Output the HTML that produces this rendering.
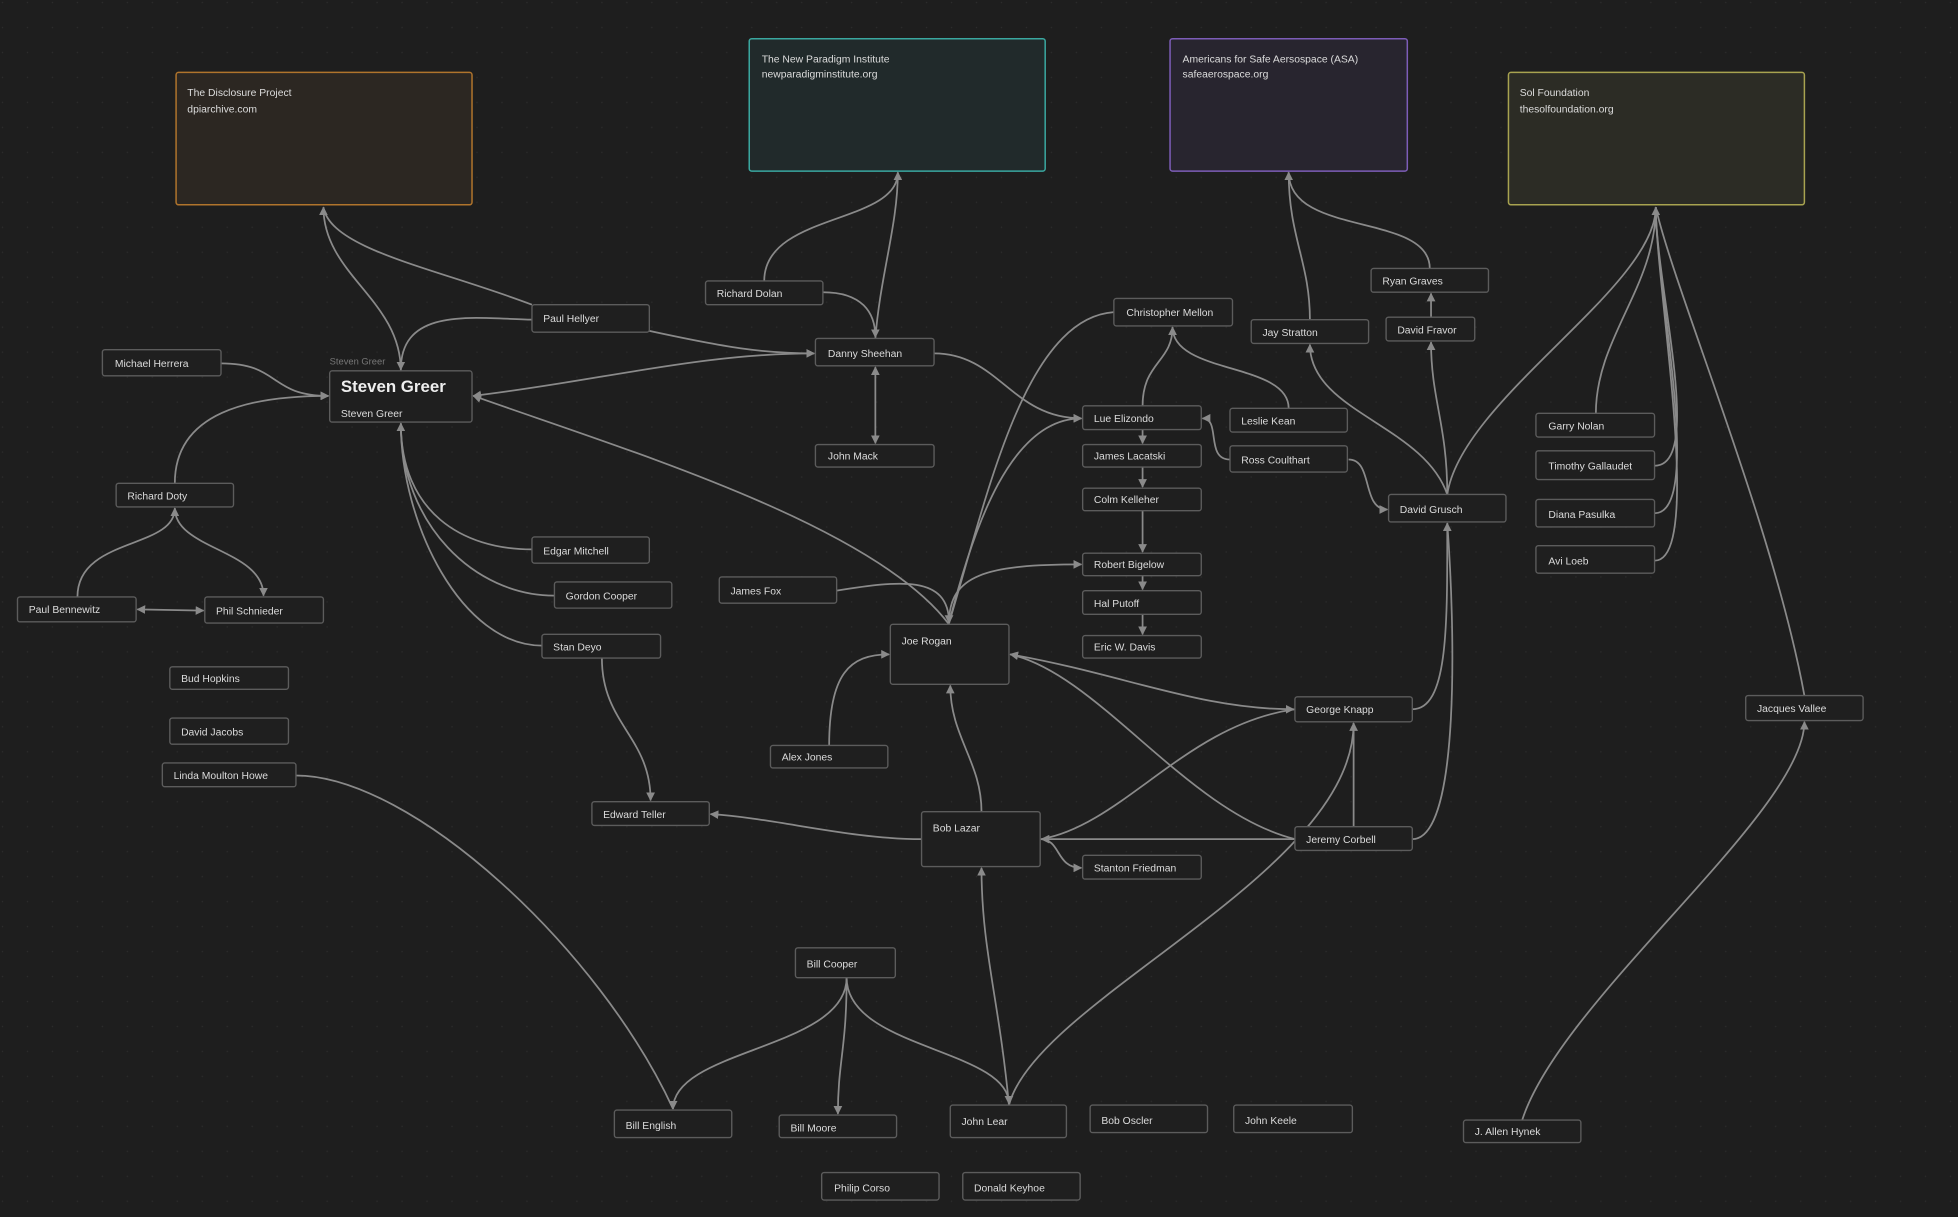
<!DOCTYPE html>
<html><head><meta charset="utf-8"><style>
html,body{margin:0;padding:0;background:#1e1e1e;overflow:hidden}
svg{display:block}
text{font-family:"Liberation Sans",sans-serif;fill:#dcdcdc;font-size:8.3px}
.n{fill:#1f1f1f;stroke:#5c5c5c;stroke-width:1.1}
.e{fill:none;stroke:#8a8a8a;stroke-width:1.4}
</style></head><body>
<svg width="1958" height="1217" viewBox="0 0 1568 974.6" xmlns="http://www.w3.org/2000/svg">
<defs>
<pattern id="dots" width="20" height="20" patternUnits="userSpaceOnUse"><circle cx="2" cy="2" r="0.6" fill="#2c2c2c"/></pattern>
<marker id="a" viewBox="0 0 10 10" refX="9" refY="5" markerWidth="7" markerHeight="7" orient="auto-start-reverse" markerUnits="userSpaceOnUse"><path d="M0,0L10,5L0,10z" fill="#8a8a8a"/></marker>
</defs>
<rect width="1568" height="975" fill="#1e1e1e"/>
<rect width="1568" height="975" fill="url(#dots)"/>

<rect x="141" y="58" width="237" height="106" rx="2" fill="#2c2722" stroke="#b0742c" stroke-width="1.2"/>
<text x="150" y="77">The Disclosure Project</text><text x="150" y="90">dpiarchive.com</text>
<rect x="600" y="31" width="237" height="106" rx="2" fill="#212a2b" stroke="#3aa8a0" stroke-width="1.2"/>
<text x="610" y="50">The New Paradigm Institute</text><text x="610" y="62">newparadigminstitute.org</text>
<rect x="937" y="31" width="190" height="106" rx="2" fill="#28252f" stroke="#7d5db8" stroke-width="1.2"/>
<text x="947" y="50">Americans for Safe Aersospace (ASA)</text><text x="947" y="62">safeaerospace.org</text>
<rect x="1208" y="58" width="237" height="106" rx="2" fill="#2c2c25" stroke="#a8a350" stroke-width="1.2"/>
<text x="1217" y="77">Sol Foundation</text><text x="1217" y="90">thesolfoundation.org</text>

<g class="e">
<path d="M321,297 C321,240 259,220 259,166" marker-end="url(#a)"/>
<path d="M426,244 C350,215 265,200 259,166"/>
<path d="M426,256 C380,255 321,245 321,296" marker-end="url(#a)"/>
<path d="M520,265 C580,278 610,283 652,283" marker-end="url(#a)"/>
<path d="M379,317 C480,305 560,283 652,283" marker-start="url(#a)" marker-end="url(#a)"/>
<path d="M177,291 C225,291 215,317 263,317" marker-end="url(#a)"/>
<path d="M140,387 C140,330 200,317 263,317" marker-end="url(#a)"/>
<path d="M426,440 C370,440 321,410 321,339" marker-end="url(#a)"/>
<path d="M444,477 C380,477 321,420 321,339"/>
<path d="M434,517 C370,517 321,420 321,339"/>
<path d="M760,500 C700,420 500,360 379,317" marker-end="url(#a)"/>
<path d="M612,225 C612,170 719,180 719,138" marker-end="url(#a)"/>
<path d="M701,271 C705,220 719,180 719,138"/>
<path d="M659,234 C690,234 701,250 701,270" marker-end="url(#a)"/>
<path d="M701,294 L701,355" marker-start="url(#a)" marker-end="url(#a)"/>
<path d="M748,283 C800,283 810,335 866,335" marker-end="url(#a)"/>
<path d="M62,478 C62,430 140,440 140,407" marker-end="url(#a)"/>
<path d="M140,407 C140,440 211,440 211,477" marker-end="url(#a)"/>
<path d="M110,488 L163,489" marker-start="url(#a)" marker-end="url(#a)"/>
<path d="M482,527 C482,580 521,590 521,641" marker-end="url(#a)"/>
<path d="M738,672 C680,672 620,655 569,652" marker-end="url(#a)"/>
<path d="M786,650 C786,610 761,590 761,549" marker-end="url(#a)"/>
<path d="M664,597 C664,540 680,524 712,524" marker-end="url(#a)"/>
<path d="M670,473 C720,465 760,460 760,499" marker-end="url(#a)"/>
<path d="M760,499 C790,400 820,255 892,250"/>
<path d="M760,499 C780,420 810,335 866,335" marker-end="url(#a)"/>
<path d="M760,499 C760,460 790,452 866,452" marker-end="url(#a)"/>
<path d="M915,344 L915,355" marker-end="url(#a)"/>
<path d="M915,374 L915,390" marker-end="url(#a)"/>
<path d="M915,409 L915,442" marker-end="url(#a)"/>
<path d="M915,461 L915,472" marker-end="url(#a)"/>
<path d="M915,492 L915,508" marker-end="url(#a)"/>
<path d="M915,325 C915,290 939,290 939,262" marker-end="url(#a)"/>
<path d="M1032,327 C1032,290 939,300 939,262"/>
<path d="M985,368 C965,368 978,335 963,335" marker-end="url(#a)"/>
<path d="M1080,368 C1100,368 1090,408 1111,408" marker-end="url(#a)"/>
<path d="M1159,396 C1140,340 1049,330 1049,276" marker-end="url(#a)"/>
<path d="M1159,396 C1159,340 1146,320 1146,274" marker-end="url(#a)"/>
<path d="M1159,396 C1170,320 1326,230 1326,166" marker-end="url(#a)"/>
<path d="M1049,256 C1049,210 1032,190 1032,138" marker-end="url(#a)"/>
<path d="M1145,215 C1145,170 1032,190 1032,138"/>
<path d="M1146,254 L1146,235" marker-end="url(#a)"/>
<path d="M1278,331 C1278,270 1326,230 1326,166"/>
<path d="M1325,373 C1365,373 1326,230 1326,166"/>
<path d="M1325,411 C1365,411 1326,230 1326,166"/>
<path d="M1325,449 C1365,449 1326,230 1326,166"/>
<path d="M1445,557 C1420,420 1340,230 1326,166"/>
<path d="M809,524 C900,540 960,568 1036,568" marker-start="url(#a)" marker-end="url(#a)"/>
<path d="M1131,568 C1160,568 1159,500 1159,419" marker-end="url(#a)"/>
<path d="M1131,672 C1170,672 1165,500 1159,419"/>
<path d="M1037,672 C950,650 880,540 809,524"/>
<path d="M1084,662 L1084,579" marker-end="url(#a)"/>
<path d="M1037,672 L834,672" marker-end="url(#a)"/>
<path d="M1037,568 C950,580 900,660 834,672"/>
<path d="M833,672 C850,672 845,695 866,695" marker-end="url(#a)"/>
<path d="M808,885 C800,800 786,760 786,695" marker-end="url(#a)"/>
<path d="M808,885 C830,800 1084,700 1084,579"/>
<path d="M678,783 C678,840 539,840 539,888" marker-end="url(#a)"/>
<path d="M678,783 C678,840 671,850 671,892" marker-end="url(#a)"/>
<path d="M678,783 C678,840 808,840 808,884" marker-end="url(#a)"/>
<path d="M237,621 C330,621 480,760 539,888"/>
<path d="M1219,897 C1250,800 1445,650 1445,578" marker-end="url(#a)"/>
</g>

<text x="264" y="292" style="fill:#777;font-size:7.5px">Steven Greer</text>
<rect class="n" x="264" y="297" width="114" height="41" rx="2"/>
<text x="273" y="314" style="font-size:13.5px;font-weight:bold;fill:#eee">Steven Greer</text>
<text x="273" y="334">Steven Greer</text>
<rect class="n" x="713" y="500" width="95" height="48" rx="2"/><text x="722" y="516">Joe Rogan</text>
<rect class="n" x="738" y="650" width="95" height="44" rx="2"/><text x="747" y="666">Bob Lazar</text>

<g>
<rect class="n" x="82" y="280" width="95" height="21" rx="2"/><text x="92" y="294">Michael Herrera</text>
<rect class="n" x="426" y="244" width="94" height="22" rx="2"/><text x="435" y="258">Paul Hellyer</text>
<rect class="n" x="565" y="225" width="94" height="19" rx="2"/><text x="574" y="238">Richard Dolan</text>
<rect class="n" x="653" y="271" width="95" height="22" rx="2"/><text x="663" y="286">Danny Sheehan</text>
<rect class="n" x="653" y="356" width="95" height="18" rx="2"/><text x="663" y="368">John Mack</text>
<rect class="n" x="93" y="387" width="94" height="19" rx="2"/><text x="102" y="400">Richard Doty</text>
<rect class="n" x="14" y="478" width="95" height="20" rx="2"/><text x="23" y="491">Paul Bennewitz</text>
<rect class="n" x="164" y="478" width="95" height="21" rx="2"/><text x="173" y="492">Phil Schnieder</text>
<rect class="n" x="426" y="430" width="94" height="21" rx="2"/><text x="435" y="444">Edgar Mitchell</text>
<rect class="n" x="444" y="466" width="94" height="21" rx="2"/><text x="453" y="480">Gordon Cooper</text>
<rect class="n" x="434" y="508" width="95" height="19" rx="2"/><text x="443" y="521">Stan Deyo</text>
<rect class="n" x="136" y="534" width="95" height="18" rx="2"/><text x="145" y="546">Bud Hopkins</text>
<rect class="n" x="136" y="575" width="95" height="21" rx="2"/><text x="145" y="589">David Jacobs</text>
<rect class="n" x="130" y="611" width="107" height="19" rx="2"/><text x="139" y="624">Linda Moulton Howe</text>
<rect class="n" x="576" y="462" width="94" height="21" rx="2"/><text x="585" y="476">James Fox</text>
<rect class="n" x="617" y="597" width="94" height="18" rx="2"/><text x="626" y="609">Alex Jones</text>
<rect class="n" x="474" y="642" width="94" height="19" rx="2"/><text x="483" y="655">Edward Teller</text>
<rect class="n" x="867" y="685" width="95" height="19" rx="2"/><text x="876" y="698">Stanton Friedman</text>
<rect class="n" x="892" y="239" width="95" height="22" rx="2"/><text x="902" y="253">Christopher Mellon</text>
<rect class="n" x="867" y="325" width="95" height="19" rx="2"/><text x="876" y="338">Lue Elizondo</text>
<rect class="n" x="867" y="356" width="95" height="18" rx="2"/><text x="876" y="368">James Lacatski</text>
<rect class="n" x="867" y="391" width="95" height="18" rx="2"/><text x="876" y="403">Colm Kelleher</text>
<rect class="n" x="867" y="443" width="95" height="18" rx="2"/><text x="876" y="455">Robert Bigelow</text>
<rect class="n" x="867" y="473" width="95" height="19" rx="2"/><text x="876" y="486">Hal Putoff</text>
<rect class="n" x="867" y="509" width="95" height="18" rx="2"/><text x="876" y="521">Eric W. Davis</text>
<rect class="n" x="985" y="327" width="94" height="19" rx="2"/><text x="994" y="340">Leslie Kean</text>
<rect class="n" x="985" y="357" width="94" height="21" rx="2"/><text x="994" y="371">Ross Coulthart</text>
<rect class="n" x="1002" y="256" width="94" height="19" rx="2"/><text x="1011" y="269">Jay Stratton</text>
<rect class="n" x="1098" y="215" width="94" height="19" rx="2"/><text x="1107" y="228">Ryan Graves</text>
<rect class="n" x="1110" y="254" width="71" height="19" rx="2"/><text x="1119" y="267">David Fravor</text>
<rect class="n" x="1112" y="396" width="94" height="22" rx="2"/><text x="1121" y="411">David Grusch</text>
<rect class="n" x="1230" y="331" width="95" height="19" rx="2"/><text x="1240" y="344">Garry Nolan</text>
<rect class="n" x="1230" y="361" width="95" height="23" rx="2"/><text x="1240" y="376">Timothy Gallaudet</text>
<rect class="n" x="1230" y="400" width="95" height="22" rx="2"/><text x="1240" y="415">Diana Pasulka</text>
<rect class="n" x="1230" y="437" width="95" height="22" rx="2"/><text x="1240" y="452">Avi Loeb</text>
<rect class="n" x="1037" y="558" width="94" height="20" rx="2"/><text x="1046" y="571">George Knapp</text>
<rect class="n" x="1037" y="662" width="94" height="19" rx="2"/><text x="1046" y="675">Jeremy Corbell</text>
<rect class="n" x="1398" y="557" width="94" height="20" rx="2"/><text x="1407" y="570">Jacques Vallee</text>
<rect class="n" x="637" y="759" width="80" height="24" rx="2"/><text x="646" y="775">Bill Cooper</text>
<rect class="n" x="492" y="889" width="94" height="22" rx="2"/><text x="501" y="904">Bill English</text>
<rect class="n" x="624" y="893" width="94" height="18" rx="2"/><text x="633" y="906">Bill Moore</text>
<rect class="n" x="761" y="885" width="93" height="26" rx="2"/><text x="770" y="901">John Lear</text>
<rect class="n" x="873" y="885" width="94" height="22" rx="2"/><text x="882" y="900">Bob Oscler</text>
<rect class="n" x="988" y="885" width="95" height="22" rx="2"/><text x="997" y="900">John Keele</text>
<rect class="n" x="1172" y="897" width="94" height="18" rx="2"/><text x="1181" y="909">J. Allen Hynek</text>
<rect class="n" x="658" y="939" width="94" height="22" rx="2"/><text x="668" y="954">Philip Corso</text>
<rect class="n" x="771" y="939" width="94" height="22" rx="2"/><text x="780" y="954">Donald Keyhoe</text>
</g>
</svg>
</body></html>
